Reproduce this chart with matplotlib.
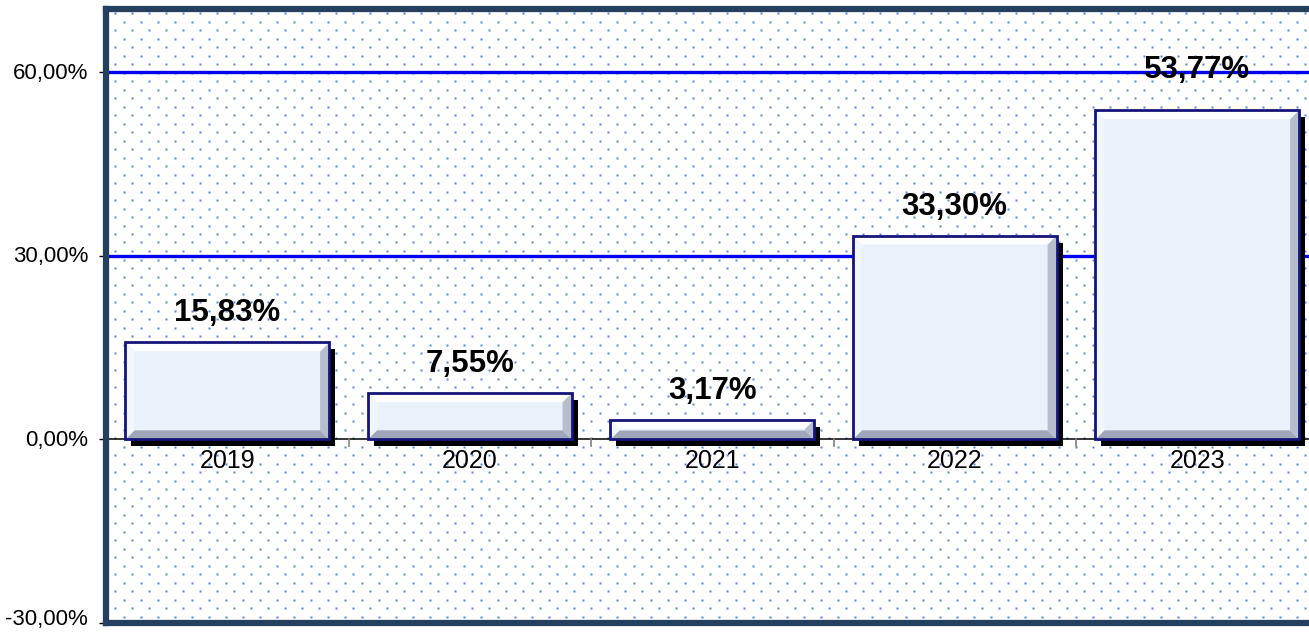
import matplotlib.pyplot as plt
from matplotlib.patches import Rectangle, Polygon
from matplotlib import transforms
import numpy as np

plt.rcParams['font.family'] = ['Liberation Sans', 'DejaVu Sans']

years = ['2019', '2020', '2021', '2022', '2023']
growth = [15.83, 7.55, 3.17, 33.30, 53.77]
yticks = [-30, 0, 30, 60]
label_lift = [29, 29, 29, 29, 40]  # px above bar top, as placed in the original

W, H = 1309, 633
fig = plt.figure(figsize=(W / 100, H / 100), dpi=100)
ax = fig.add_axes([106 / W, 10 / H, 1212.5 / W, 614 / H])
ax.set_xlim(-0.5, 4.5)
ax.set_ylim(-30, 70.3)

# pixel -> data scale
px_x = 5 / 1212.5
px_y = 100.3 / 614

# dotted background pattern (diagonal lattice)
nx, ny = int(1212.5 / 17) + 2, int(614 / 8.5) + 2
for j in range(ny):
    yy = (614 - 4 - j * 8.5) / 614
    shift = 0 if j % 2 == 0 else 8.5
    xx = (9 + shift + np.arange(nx) * 17) / 1212.5
    ax.plot(xx, np.full_like(xx, yy), ls='none', marker='s', ms=1.6,
            mec='none', mfc='#5b86cf', transform=ax.transAxes, zorder=0,
            clip_on=True)

# gridlines
for g in [30, 60]:
    ax.axhline(g, color='#0000ee', lw=2.4, zorder=1)
ax.axhline(0, color='black', lw=1.1, zorder=1)

# category separator ticks on the zero line
for b in np.arange(0.5, len(years), 1.0):
    ax.plot([b, b], [0, -7 * px_y], color='#808080', lw=1.2, zorder=1)

bw = 0.84
shadow_tr = ax.transData + transforms.ScaledTranslation(6 / 100, -7 / 100, fig.dpi_scale_trans)
for i, v in enumerate(growth):
    x0, x1 = i - bw / 2, i + bw / 2
    # shadow
    ax.add_patch(Rectangle((x0, 0), bw, v, transform=shadow_tr,
                           fc='black', ec='none', zorder=2))
    # face
    ax.add_patch(Rectangle((x0, 0), bw, v, fc='#e9f1fb', ec='none', zorder=3))
    # bevel
    bx = 9 * px_x
    by = min(9 * px_y, v / 2.2)
    bevels = [
        ([(x0, 0), (x1, 0), (x1 - bx, by), (x0 + bx, by)], '#9ea6b8'),
        ([(x1, 0), (x1, v), (x1 - bx, v - by), (x1 - bx, by)], '#b6bece'),
        ([(x0, v), (x1, v), (x1 - bx, v - by), (x0 + bx, v - by)], '#fbfdff'),
        ([(x0, 0), (x0, v), (x0 + bx, v - by), (x0 + bx, by)], '#f1f6fd'),
    ]
    for pts, c in bevels:
        ax.add_patch(Polygon(pts, closed=True, fc=c, ec='none', zorder=4))
    ax.add_patch(Rectangle((x0, 0), bw, v, fc='none', ec='#14147a', lw=2, zorder=5))

    lab = f'{v:.2f}'.replace('.', ',') + '%'
    ax.annotate(lab, (i, v), xytext=(0, label_lift[i]), textcoords='offset pixels',
                ha='center', va='center', fontsize=22.5, fontweight='bold', zorder=6)
    ax.annotate(years[i], (i, 0), xytext=(0, -10), textcoords='offset pixels',
                ha='center', va='top', fontsize=18, zorder=6)

# y tick marks + labels (bottom label kept inside the canvas)
ax.set_xticks([])
ax.set_yticks(yticks)
ax.set_yticklabels([])
ax.tick_params(axis='y', direction='out', length=5, width=1, color='black')
ylab_tr = ax.get_yaxis_transform()
for t in yticks:
    ax.annotate(f'{t:.2f}'.replace('.', ',') + '%', (0, t), xycoords=ylab_tr,
                xytext=(-18, -1 if t != -30 else 3), textcoords='offset pixels',
                ha='right', va='center', fontsize=16, annotation_clip=False)

for s in ax.spines.values():
    s.set_color('#253f5f')
    s.set_linewidth(4.5)
    s.set_zorder(7)

fig.savefig('out.png', dpi=100)
